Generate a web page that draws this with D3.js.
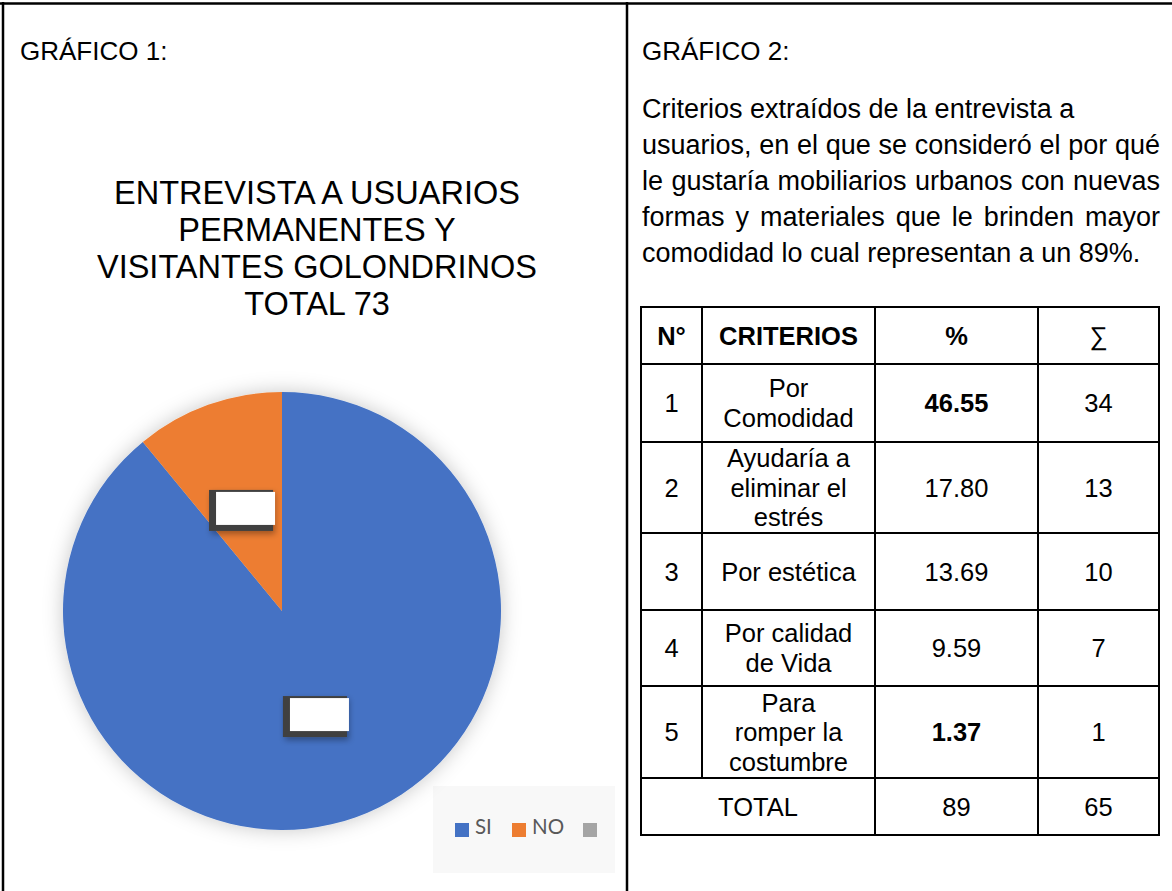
<!DOCTYPE html>
<html>
<head>
<meta charset="utf-8">
<script src="https://cdn.jsdelivr.net/npm/d3@7"></script>
<style>
  html, body { margin: 0; padding: 0; background: #fff; }
  svg { display: block; }
  text { font-family: "Liberation Sans", Arial, sans-serif; fill: #000; }
</style>
</head>
<body>
<svg id="page" width="1172" height="891"></svg>
<script>
// ---- Gráfico 1: pie data ----
const pieCategories = ["SI", "NO", ""];
const pieValues = [65, 8, 0];
const pieColors = ["#4472C4", "#ED7D31", "#A5A5A5"];
const pieTitleLines = ["ENTREVISTA A USUARIOS", "PERMANENTES Y", "VISITANTES GOLONDRINOS", "TOTAL 73"];

// ---- Gráfico 2: table data ----
const tableHeaders = ["N°", "CRITERIOS", "%", "∑"];
const rowNumbers = ["1", "2", "3", "4", "5"];
const criteria = [
  ["Por", "Comodidad"],
  ["Ayudaría a", "eliminar el", "estrés"],
  ["Por estética"],
  ["Por calidad", "de Vida"],
  ["Para", "romper la", "costumbre"]
];
const percents = ["46.55", "17.80", "13.69", "9.59", "1.37"];
const percentBold = [true, false, false, false, true];
const counts = ["34", "13", "10", "7", "1"];
const totalLabel = "TOTAL";
const totalPercent = "89";
const totalCount = "65";
const paragraphLines = [
  "Criterios extraídos de la entrevista a",
  "usuarios, en el que se consideró el por  qué",
  "le gustaría mobiliarios urbanos con nuevas",
  "formas y materiales que le brinden mayor",
  "comodidad lo cual representan a un 89%."
];
const justifiedLines = [false, true, true, true, false];

const svg = d3.select("#page");

// ---- page frame (two-column layout) ----
const frame = svg.append("g").attr("stroke", "#000").attr("stroke-width", 2.5);
frame.append("line").attr("x1", 0).attr("x2", 1172).attr("y1", 3.5).attr("y2", 3.5);
frame.append("line").attr("x1", 3).attr("x2", 3).attr("y1", 2).attr("y2", 891);
frame.append("line").attr("x1", 627).attr("x2", 627).attr("y1", 2).attr("y2", 891);

svg.append("text").attr("x", 20).attr("y", 60).attr("font-size", 26).text("GRÁFICO 1:");
svg.append("text").attr("x", 642).attr("y", 60).attr("font-size", 26).text("GRÁFICO 2:");

// ---- pie chart ----
const defs = svg.append("defs");
const glow = defs.append("filter").attr("id", "pieGlow")
  .attr("x", "-20%").attr("y", "-20%").attr("width", "140%").attr("height", "140%");
glow.append("feDropShadow").attr("dx", 0).attr("dy", 0)
  .attr("stdDeviation", 10).attr("flood-color", "#000").attr("flood-opacity", 0.22);

const boxShadow = defs.append("filter").attr("id", "boxShadow")
  .attr("x", "-50%").attr("y", "-50%").attr("width", "200%").attr("height", "200%");
boxShadow.append("feDropShadow").attr("dx", 2).attr("dy", 3)
  .attr("stdDeviation", 3).attr("flood-color", "#000").attr("flood-opacity", 0.35);

// legend / plot background band
svg.append("rect").attr("x", 433).attr("y", 786).attr("width", 182).attr("height", 87)
  .attr("fill", "#f8f8f8");

svg.append("g").attr("text-anchor", "middle").selectAll("text")
  .data(pieTitleLines).join("text")
  .attr("x", 317).attr("y", (d, i) => 204 + i * 37)
  .attr("font-size", 32.5).text(d => d);

const cx = 282, cy = 611, radius = 219;
const pie = d3.pie().sort(null).value(d => d.value);
const arcs = pie(pieCategories.map((c, i) => ({ name: c, value: pieValues[i], color: pieColors[i] })));
const arc = d3.arc().innerRadius(0).outerRadius(radius);

const pg = svg.append("g").attr("transform", `translate(${cx},${cy})`);
pg.append("g").attr("filter", "url(#pieGlow)")
  .selectAll("path").data(arcs.filter(a => a.value > 0)).join("path")
  .attr("d", arc).attr("fill", d => d.data.color);

// data label callouts (empty white boxes with dark shadow), at slice centroids
const labelArc = d3.arc().innerRadius(0).outerRadius(radius);
const lbl = pg.selectAll("g.lbl").data(arcs.filter(a => a.value > 0)).join("g")
  .attr("class", "lbl")
  .attr("transform", d => { const [x, y] = labelArc.centroid(d); return `translate(${x},${y})`; });
lbl.append("rect").attr("x", -36).attr("y", -18).attr("width", 64).attr("height", 41)
  .attr("fill", "#3f3f3f").attr("filter", "url(#boxShadow)");
lbl.append("rect").attr("x", -29).attr("y", -16).attr("width", 59).attr("height", 33)
  .attr("fill", "#fff");

// legend
const legendX = [455, 512, 583];
const lg = svg.append("g");
pieCategories.forEach((c, i) => {
  lg.append("rect").attr("x", legendX[i]).attr("y", 823).attr("width", 14).attr("height", 14)
    .attr("fill", pieColors[i]);
  if (c) {
    lg.append("text").attr("x", legendX[i] + 20).attr("y", 834)
      .attr("font-size", 20.5).style("font-family", "Lato, 'Open Sans', sans-serif")
      .style("fill", "#595959").text(c);
  }
});

// ---- paragraph (justified lines) ----
const paraLeft = 642, paraRight = 1160, paraFs = 27;
const para = svg.append("g");
paragraphLines.forEach((line, i) => {
  const y = 118 + i * 36;
  if (!justifiedLines[i]) {
    para.append("text").attr("x", paraLeft).attr("y", y).attr("font-size", paraFs)
      .style("white-space", "pre").text(line);
    return;
  }
  const words = line.split(/\s+/);
  const widths = words.map(w => {
    const t = para.append("text").attr("font-size", paraFs).text(w);
    const wd = t.node().getComputedTextLength();
    t.remove();
    return wd;
  });
  const total = d3.sum(widths);
  const gap = (paraRight - paraLeft - total) / (words.length - 1);
  let x = paraLeft;
  words.forEach((w, j) => {
    para.append("text").attr("x", x).attr("y", y).attr("font-size", paraFs).text(w);
    x += widths[j] + gap;
  });
});

// ---- table ----
const colEdges = [641, 702, 875, 1038, 1159];
const rowEdges = [307, 364, 442, 533, 610, 686, 778, 835];
const colX = d3.scaleOrdinal().domain(d3.range(4))
  .range(d3.range(4).map(i => (colEdges[i] + colEdges[i + 1]) / 2));
const rowMid = i => (rowEdges[i] + rowEdges[i + 1]) / 2;

const tbl = svg.append("g");
const lineH = 29.5, fs = 25.5;

function cellText(col, row, lines, bold) {
  const n = lines.length;
  const y0 = rowMid(row) - (n - 1) * lineH / 2 + fs * 0.36;
  lines.forEach((l, k) => {
    tbl.append("text").attr("x", colX(col)).attr("y", y0 + k * lineH)
      .attr("text-anchor", "middle").attr("font-size", fs)
      .attr("font-weight", bold ? "bold" : "normal").text(l);
  });
}

tableHeaders.forEach((h, j) => cellText(j, 0, [h], j < 3));
rowNumbers.forEach((n, i) => {
  cellText(0, i + 1, [n], false);
  cellText(1, i + 1, criteria[i], false);
  cellText(2, i + 1, [percents[i]], percentBold[i]);
  cellText(3, i + 1, [counts[i]], false);
});
tbl.append("text").attr("x", (colEdges[0] + colEdges[2]) / 2).attr("y", rowMid(6) + fs * 0.36)
  .attr("text-anchor", "middle").attr("font-size", fs).text(totalLabel);
cellText(2, 6, [totalPercent], false);
cellText(3, 6, [totalCount], false);

// grid lines
const grid = tbl.append("g").attr("stroke", "#000").attr("stroke-width", 2).attr("fill", "none");
rowEdges.forEach(y => grid.append("line").attr("x1", colEdges[0] - 1).attr("x2", colEdges[4] + 1)
  .attr("y1", y).attr("y2", y));
colEdges.forEach((x, j) => grid.append("line").attr("x1", x).attr("x2", x)
  .attr("y1", rowEdges[0]).attr("y2", j === 1 ? rowEdges[6] : rowEdges[7]));
</script>
</body>
</html>
